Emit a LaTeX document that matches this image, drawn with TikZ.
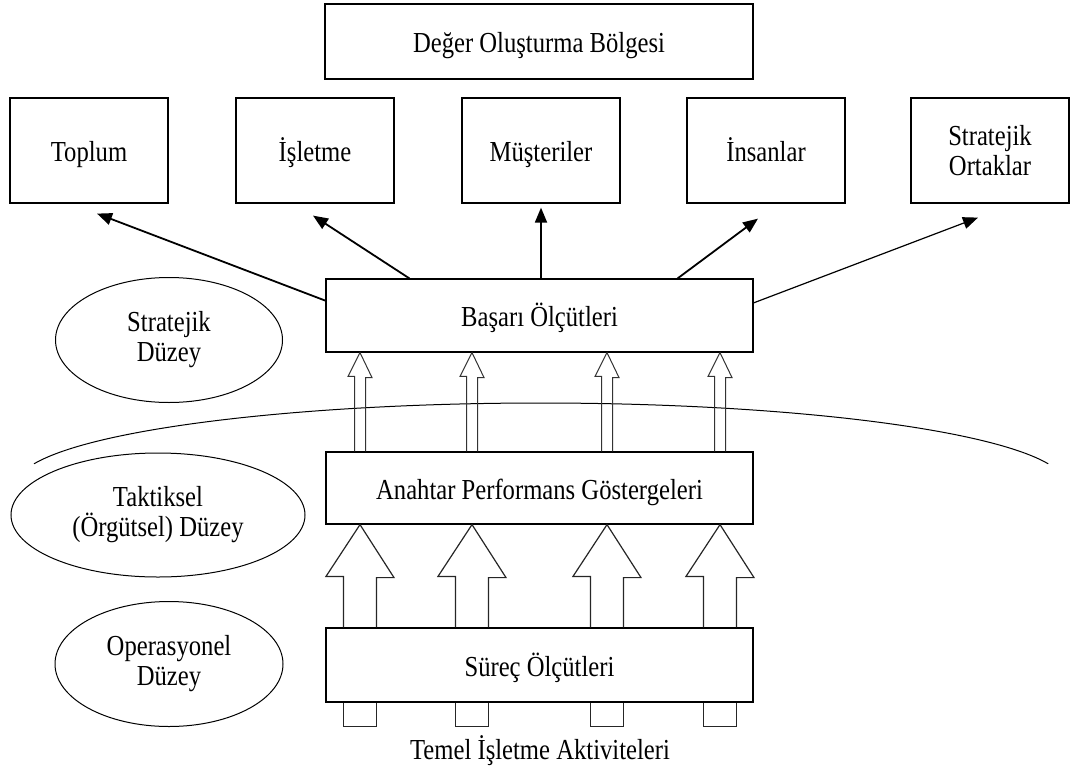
\documentclass[tikz,border=0pt]{standalone}
\usepackage{fontspec}
\setmainfont{Liberation Serif}[FakeStretch=0.85]
\usetikzlibrary{arrows.meta,calc,shapes.geometric}

\begin{document}
\begin{tikzpicture}[x=1pt,y=-1pt,
  txt/.style={font=\fontsize{29}{30}\selectfont},
  multi/.style={align=center},
  box/.style={txt, draw, line width=1.2pt, inner sep=0pt},
  oneline/.style={text height=22pt, text depth=0pt},
  wide/.style={box, oneline, minimum width=427pt, minimum height=73pt},
  goal/.style={box, minimum width=158pt, minimum height=105pt},
  level/.style={txt, multi, ellipse, draw, line width=1pt, inner sep=0pt},
  link/.style={line width=1.8pt, -{Triangle[length=15pt,width=12pt]}},
  thinlink/.style={line width=1.2pt, -{Triangle[length=15pt,width=12pt]}},
  hollow/.style={line width=1pt, draw=black!80, line join=miter},
  block/.style={line width=1.2pt, draw=black!85, line join=miter}]

\useasboundingbox (0,0) rectangle (1070,771);

% value creation zone and its stakeholders
\node[box, oneline, minimum width=428pt, minimum height=75pt] (deger) at (539,41.5) {Değer Oluşturma Bölgesi};
\node[goal, oneline] (toplum) at (89,150.5) {Toplum};
\node[goal, oneline] (isl) at (315,150.5) {İşletme};
\node[goal, oneline] (mus) at (541,150.5) {Müşteriler};
\node[goal, oneline] (ins) at (766,150.5) {İnsanlar};
\node[goal, multi] (ort) at (990,150.5) {Stratejik\\Ortaklar};

% measurement layers
\node[wide] (bas) at (539.5,315.5) {Başarı Ölçütleri};
\node[wide, minimum height=72pt] (ant) at (539.5,488) {Anahtar Performans Göstergeleri};
\node[wide, minimum height=74pt] (sur) at (539.5,665) {Süreç Ölçütleri};
\node[txt, anchor=base] (temel) at (540,759) {Temel İşletme Aktiviteleri};

% management levels
\node[level, minimum width=227pt, minimum height=125pt] (strat) at (169,340) {Stratejik\\Düzey};
\node[level, minimum width=294pt, minimum height=124pt] (takt) at (158,515) {Taktiksel\\(Örgütsel) Düzey};
\node[level, minimum width=228pt, minimum height=125pt] (oper) at (169,664) {Operasyonel\\Düzey};

% boundary between strategic and tactical levels
\draw[line width=1pt] (34,463.8) arc[start angle=165, end angle=15, x radius=525pt, y radius=82pt];

% success measures feeding the stakeholders
\draw[link] ($(bas.north west)!0.3!(bas.south west)$) -- ($(toplum.south)+(8,10)$);
\draw[link] ($(bas.north west)+(84,0)$) -- ($(isl.south)+(-2,12)$);
\draw[link] (mus.south |- bas.north) -- ($(mus.south)+(0,4)$);
\draw[link] ($(bas.north east)+(-76,0)$) -- ($(ins.south)+(-8,15)$);
\draw[thinlink] ($(bas.north east)!0.33!(bas.south east)$) -- ($(ort.south)+(-12,14)$);

% hollow arrows between the layers and the activity stubs
\foreach \x in {360,472,607,720}{
  \draw[hollow] (ant.north -| {\x-5.5},0) -- ++(0,-75) -- ++(-6.5,0) -- (bas.south -| \x,0)
    -- ++(12,25) -- ++(-6.5,0) -- (ant.north -| {\x+5.5},0);
  \draw[block] (sur.north -| {\x-16.5},0) -- ++(0,-51) -- ++(-17.5,0) -- (ant.south -| \x,0)
    -- ++(34,53) -- ++(-17.5,0) -- (sur.north -| {\x+16.5},0);
  \draw[block] (sur.south -| {\x-16.5},0) -- ++(0,24) -- ++(33,0) -- (sur.south -| {\x+16.5},0);
}
\end{tikzpicture}
\end{document}
